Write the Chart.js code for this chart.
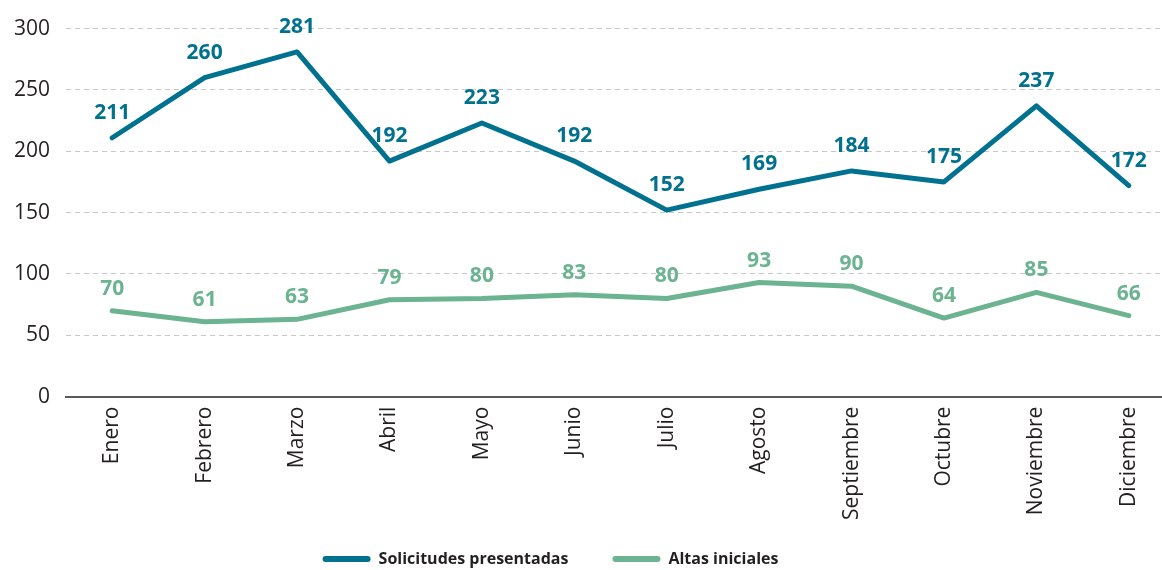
<!DOCTYPE html>
<html>
<head>
<meta charset="utf-8">
<script src="https://cdn.jsdelivr.net/npm/chart.js@4"></script>
<style>
  body { margin: 0; background: #fff; overflow: hidden; }
  #wrap { width: 1175px; height: 570px; }
</style>
</head>
<body>
<div id="wrap"><canvas id="lineChart"></canvas></div>
<script>
const meses = ['Enero', 'Febrero', 'Marzo', 'Abril', 'Mayo', 'Junio', 'Julio',
  'Agosto', 'Septiembre', 'Octubre', 'Noviembre', 'Diciembre'];
const solicitudes = [211, 260, 281, 192, 223, 192, 152, 169, 184, 175, 237, 172];
const altas = [70, 61, 63, 79, 80, 83, 80, 93, 90, 64, 85, 66];

const AZUL = '#00718f';
const VERDE = '#6bb391';
const TEXTO = '#231f20';
const FUENTE = '"Open Sans", "Noto Sans", sans-serif';

// valores encima de cada punto
const etiquetas = {
  id: 'etiquetas',
  afterDatasetsDraw(chart) {
    const ctx = chart.ctx;
    ctx.save();
    ctx.font = 'bold 21px ' + FUENTE;
    ctx.textAlign = 'center';
    ctx.textBaseline = 'middle';
    chart.data.datasets.forEach((ds, i) => {
      const meta = chart.getDatasetMeta(i);
      ctx.fillStyle = ds.borderColor;
      meta.data.forEach((pt, j) => {
        const dy = i === 0 ? 25 : 22;
        ctx.fillText(ds.data[j], pt.x, pt.y - dy);
      });
    });
    ctx.restore();
  }
};

// la leyenda va un poco a la izquierda del centro y mas arriba
// (el padding grande de las etiquetas tambien la hace mas alta)
const moverLeyenda = {
  id: 'moverLeyenda',
  afterLayout(chart) {
    const lg = chart.legend;
    lg.left -= 37;
    lg.right -= 37;
    lg.top -= 36;
    lg.bottom -= 36;
  }
};

function make_line(cnv) {
  return new Chart(cnv, {
    type: 'line',
    data: {
      labels: meses,
      datasets: [{
        label: 'Solicitudes presentadas',
        data: solicitudes,
        borderColor: AZUL,
        backgroundColor: AZUL,
        borderWidth: 5,
        borderCapStyle: 'round',
        borderJoinStyle: 'round',
        pointRadius: 0,
        tension: 0
      }, {
        label: 'Altas iniciales',
        data: altas,
        borderColor: VERDE,
        backgroundColor: VERDE,
        borderWidth: 5,
        borderCapStyle: 'round',
        borderJoinStyle: 'round',
        pointRadius: 0,
        tension: 0
      }]
    },
    options: {
      responsive: true,
      maintainAspectRatio: false,
      animation: false,
      layout: { padding: { top: 17, right: 0, bottom: -43, left: 0 } },
      plugins: {
        tooltip: { enabled: false },
        legend: {
          position: 'bottom',
          labels: {
            color: TEXTO,
            font: { family: FUENTE, size: 16, weight: 'bold' },
            boxWidth: 48,
            boxHeight: 6,
            useBorderRadius: true,
            borderRadius: 3,
            padding: 44,
            generateLabels(chart) {
              return Chart.defaults.plugins.legend.labels.generateLabels(chart)
                .map(l => Object.assign(l, { lineWidth: 0 }));
            }
          }
        }
      },
      scales: {
        x: {
          offset: true,
          afterFit(scale) { scale.height += 13; },
          grid: { display: false, drawTicks: false },
          border: { display: true, color: '#5a5a5a', width: 2 },
          ticks: {
            color: TEXTO,
            font: { family: FUENTE, size: 21 },
            minRotation: 90,
            maxRotation: 90,
            padding: 10,
            autoSkip: false
          }
        },
        y: {
          min: 0,
          max: 300,
          afterFit(scale) { scale.width = 66; },
          grid: { color: '#c8c8c8', lineWidth: 1, drawTicks: false },
          border: { display: false, dash: [5, 4] },
          ticks: {
            stepSize: 50,
            color: TEXTO,
            font: { family: FUENTE, size: 21 },
            padding: 16
          }
        }
      }
    },
    plugins: [etiquetas, moverLeyenda]
  });
}

make_line(document.getElementById('lineChart'));
</script>
</body>
</html>
